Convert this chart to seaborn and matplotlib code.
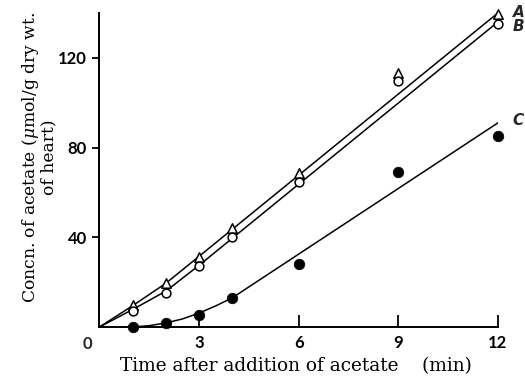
import matplotlib
matplotlib.use("Agg")
import matplotlib.pyplot as plt
import seaborn as sns
import pandas as pd

# Sampling times (min) and measured acetate concentrations
time = [1, 2, 3, 4, 6, 9, 12]
conc_A = [10, 19.5, 31, 44, 68.5, 113, 139.5]
conc_B = [7, 15, 27, 40, 64.5, 109.5, 135]
conc_C = [0, 2, 5.5, 13, 28, 69, 85]

# Hand-drawn fitted curves
fit_A_t = [0, 1, 2, 3, 12]
fit_A = [0, 9.5, 19.5, 31.5, 140]
fit_B_t = [0, 1, 2, 3, 12]
fit_B = [0, 7.8, 16, 27.5, 136]
fit_C_t = [1, 1.5, 2, 2.5, 3, 3.5, 4, 12]
fit_C = [0, 0.6, 1.8, 3.6, 6.2, 9.4, 13, 91]

x_ticks = [3, 6, 9, 12]
y_ticks = [40, 80, 120]

sns.set_theme(style="ticks")
plt.rcParams["font.family"] = ["DejaVu Serif"]
plt.rcParams["mathtext.fontset"] = "dejavuserif"

fig = plt.figure(figsize=(5.25, 3.8), dpi=100)
ax = fig.add_axes([0.1895, 0.1395, 0.7590, 0.8265])

for t, y in [(fit_A_t, fit_A), (fit_B_t, fit_B), (fit_C_t, fit_C)]:
    sns.lineplot(x=t, y=y, ax=ax, color="black", linewidth=1.1,
                 sort=False, estimator=None, legend=False)

pts = pd.DataFrame({"time": time, "A": conc_A, "B": conc_B, "C": conc_C})
sns.scatterplot(data=pts, x="time", y="A", ax=ax, marker="^", s=46,
                facecolor="white", edgecolor="black", linewidth=1.1,
                clip_on=False, zorder=3)
sns.scatterplot(data=pts, x="time", y="B", ax=ax, marker="o", s=40,
                facecolor="white", edgecolor="black", linewidth=1.1,
                clip_on=False, zorder=3)
sns.scatterplot(data=pts, x="time", y="C", ax=ax, marker="o", s=58,
                color="black", edgecolor="black", linewidth=0.5,
                clip_on=False, zorder=3)

ax.set_xlim(0, 12)
ax.set_ylim(0, 140)
sns.despine(ax=ax)
for side in ("left", "bottom"):
    ax.spines[side].set_linewidth(1.4)
    ax.spines[side].set_color("black")

tick_font = dict(family=["Lato", "DejaVu Sans"], size=12, weight="bold")
ax.set_xticks(x_ticks)
ax.set_xticklabels([str(v) for v in x_ticks], fontdict=tick_font)
ax.set_yticks(y_ticks)
ax.set_yticklabels([str(v) for v in y_ticks], fontdict=tick_font)
ax.tick_params(axis="x", direction="in", length=9, width=1.3, pad=6, colors="black")
ax.tick_params(axis="y", direction="out", length=5, width=1.3, pad=4, colors="black")
ax.annotate("0", xy=(0, 0), xytext=(-9, -12), textcoords="offset points",
            ha="center", va="center", annotation_clip=False, **tick_font)

ax.set_xlabel("Time after addition of acetate    (min)", fontsize=13.3,
              color="black")
ax.xaxis.set_label_coords(0.494, -0.097)
ax.set_ylabel("Concn. of acetate ($\\mu$mol/g dry wt.\nof heart)", fontsize=12.3,
              color="black", linespacing=0.95)
ax.yaxis.set_label_coords(-0.106, 0.54)

series_font = dict(family=["DejaVu Sans"], size=11, weight="bold", style="italic")
for label, y in [("A", 140), ("B", 134), ("C", 92)]:
    ax.text(12.62, y, label, ha="center", va="center", clip_on=False, **series_font)

fig.savefig("out.png", dpi=100)
